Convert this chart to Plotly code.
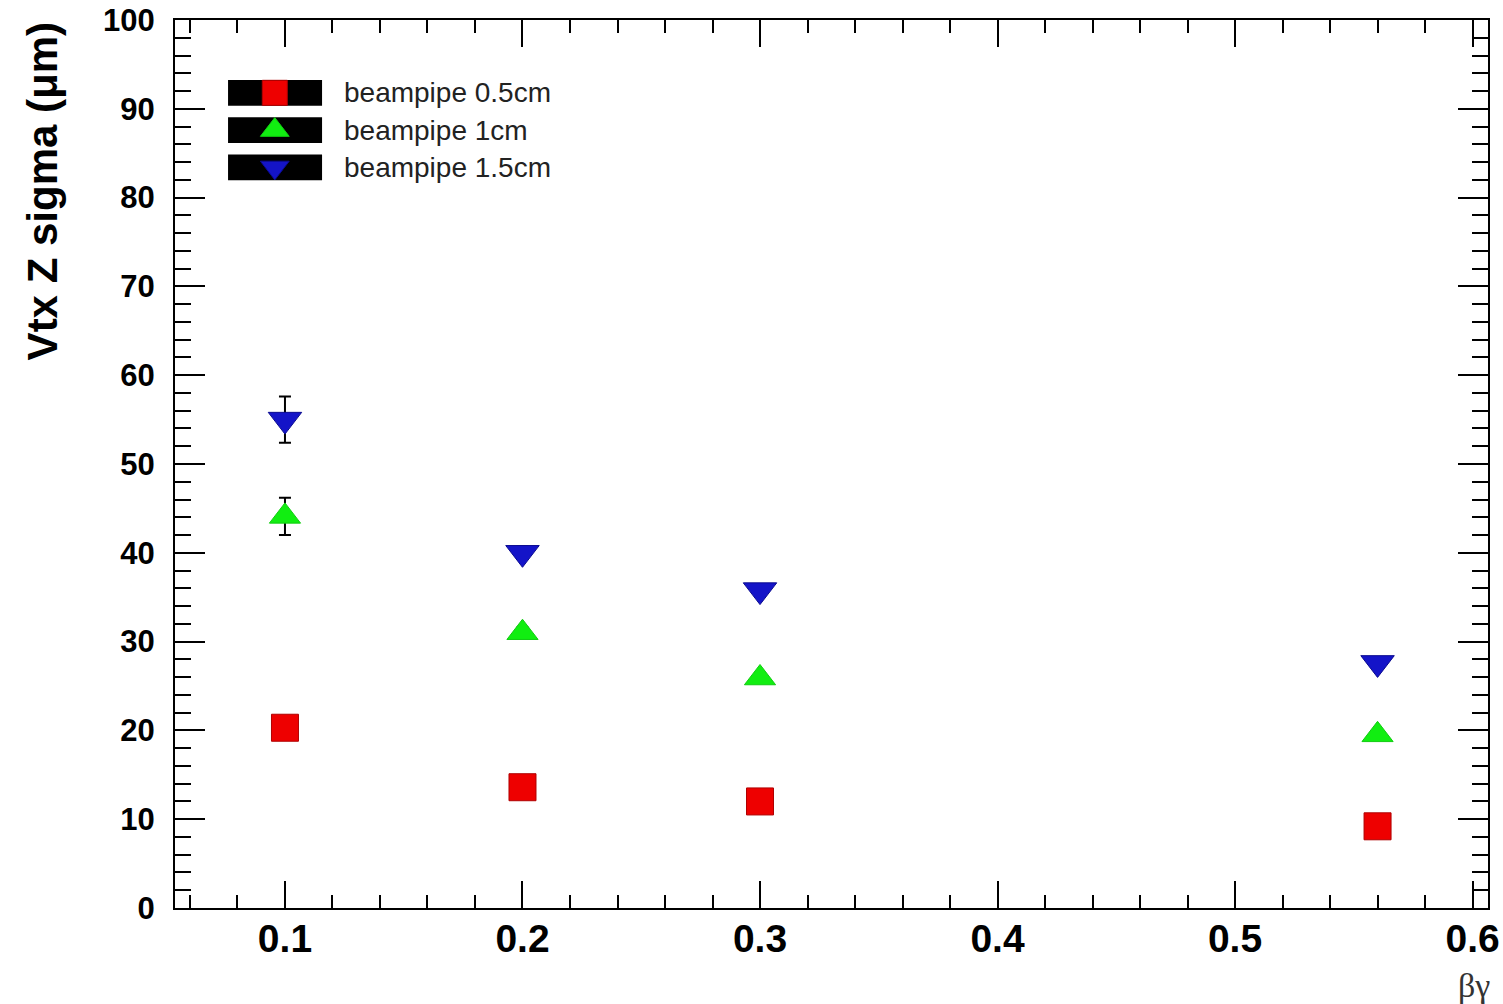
import plotly.graph_objects as go

# Data
bg = [0.1, 0.2, 0.3, 0.56]
bp05 = [20.3, 13.6, 12.0, 9.2]
bp05_err = [0.6, 0.5, 0.4, 0.4]
bp10 = [44.1, 31.0, 25.9, 19.5]
bp10_err = [2.1, 0.6, 0.5, 0.4]
bp15 = [55.0, 40.0, 35.8, 27.6]
bp15_err = [2.6, 0.7, 0.6, 0.5]
legend_labels = ["beampipe 0.5cm", "beampipe 1cm", "beampipe 1.5cm"]

series = [
    (bp05, bp05_err, "square", "#ee0000", "#b00000", 27),
    (bp10, bp10_err, "triangle-up", "#11ee11", "#11cc11", 27),
    (bp15, bp15_err, "triangle-down", "#1414c8", "#0a0a90", 29),
]

fig = go.Figure()
for (vals, errs, sym, col, edge, sz), name in zip(series, legend_labels):
    fig.add_trace(go.Scatter(
        x=bg, y=vals, mode="markers", name=name, showlegend=False,
        error_y=dict(type="data", array=errs, color="black", thickness=2, width=6),
        marker=dict(symbol=sym, size=sz, color=col, line=dict(color=edge, width=1)),
    ))

# Manual ROOT-style legend (on helper axes spanning [0,1])
leg_y = [0.918, 0.876, 0.834]
for (vals, errs, sym, col, edge, sz), name, ly in zip(series, legend_labels, leg_y):
    fig.add_shape(type="rect", xref="paper", yref="paper", layer="below",
                  x0=0.0404, x1=0.112, y0=ly - 0.0145, y1=ly + 0.0145,
                  fillcolor="black", line=dict(width=0))
    fig.add_trace(go.Scatter(
        x=[0.076], y=[ly], xaxis="x2", yaxis="y2", mode="markers", showlegend=False,
        marker=dict(symbol=sym, size=25, color=col, line=dict(color=edge, width=1)),
        hoverinfo="skip"))
    fig.add_annotation(x=0.127, y=ly, xref="paper", yref="paper", text=name,
                       showarrow=False, xanchor="left", yanchor="middle",
                       font=dict(family="Liberation Sans, Arial", size=28, color="#222"))

axis_common = dict(showgrid=False, zeroline=False, showline=True, linecolor="black",
                   linewidth=2, mirror="allticks", ticks="inside", tickcolor="black",
                   tickwidth=2, automargin=False)

fig.update_layout(
    width=1503, height=1004,
    margin=dict(l=175, r=15, t=20, b=96),
    plot_bgcolor="white", paper_bgcolor="white",
    showlegend=False,
    xaxis=dict(range=[0.0537, 0.6065], dtick=0.1, tick0=0, ticklen=27,
               tickformat=".1f", ticklabelstandoff=-5,
               tickfont=dict(family="Liberation Sans, Arial", size=39, color="black", weight=700),
               minor=dict(ticks="inside", dtick=0.02, ticklen=13, tickcolor="black", tickwidth=2),
               **axis_common),
    yaxis=dict(range=[0, 100], dtick=10, ticklen=30, ticklabelstandoff=12,
               tickfont=dict(family="Liberation Sans, Arial", size=31, color="black", weight=700),
               minor=dict(ticks="inside", dtick=2, ticklen=16, tickcolor="black", tickwidth=2),
               **axis_common),
    xaxis2=dict(range=[0, 1], overlaying="x", visible=False, fixedrange=True),
    yaxis2=dict(range=[0, 1], overlaying="y", visible=False, fixedrange=True),
)

fig.add_annotation(x=-0.101, y=1.0, xref="paper", yref="paper", text="Vtx Z sigma (μm)",
                   textangle=-90, showarrow=False, xanchor="center", yanchor="top",
                   font=dict(family="Liberation Sans, Arial", size=42, color="black", weight=700))
fig.add_annotation(x=1.003, y=-0.087, xref="paper", yref="paper", text="βγ",
                   showarrow=False, xanchor="right", yanchor="middle",
                   font=dict(family="Liberation Serif, Times New Roman", size=34, color="#333"))

fig.write_html("out.html")
